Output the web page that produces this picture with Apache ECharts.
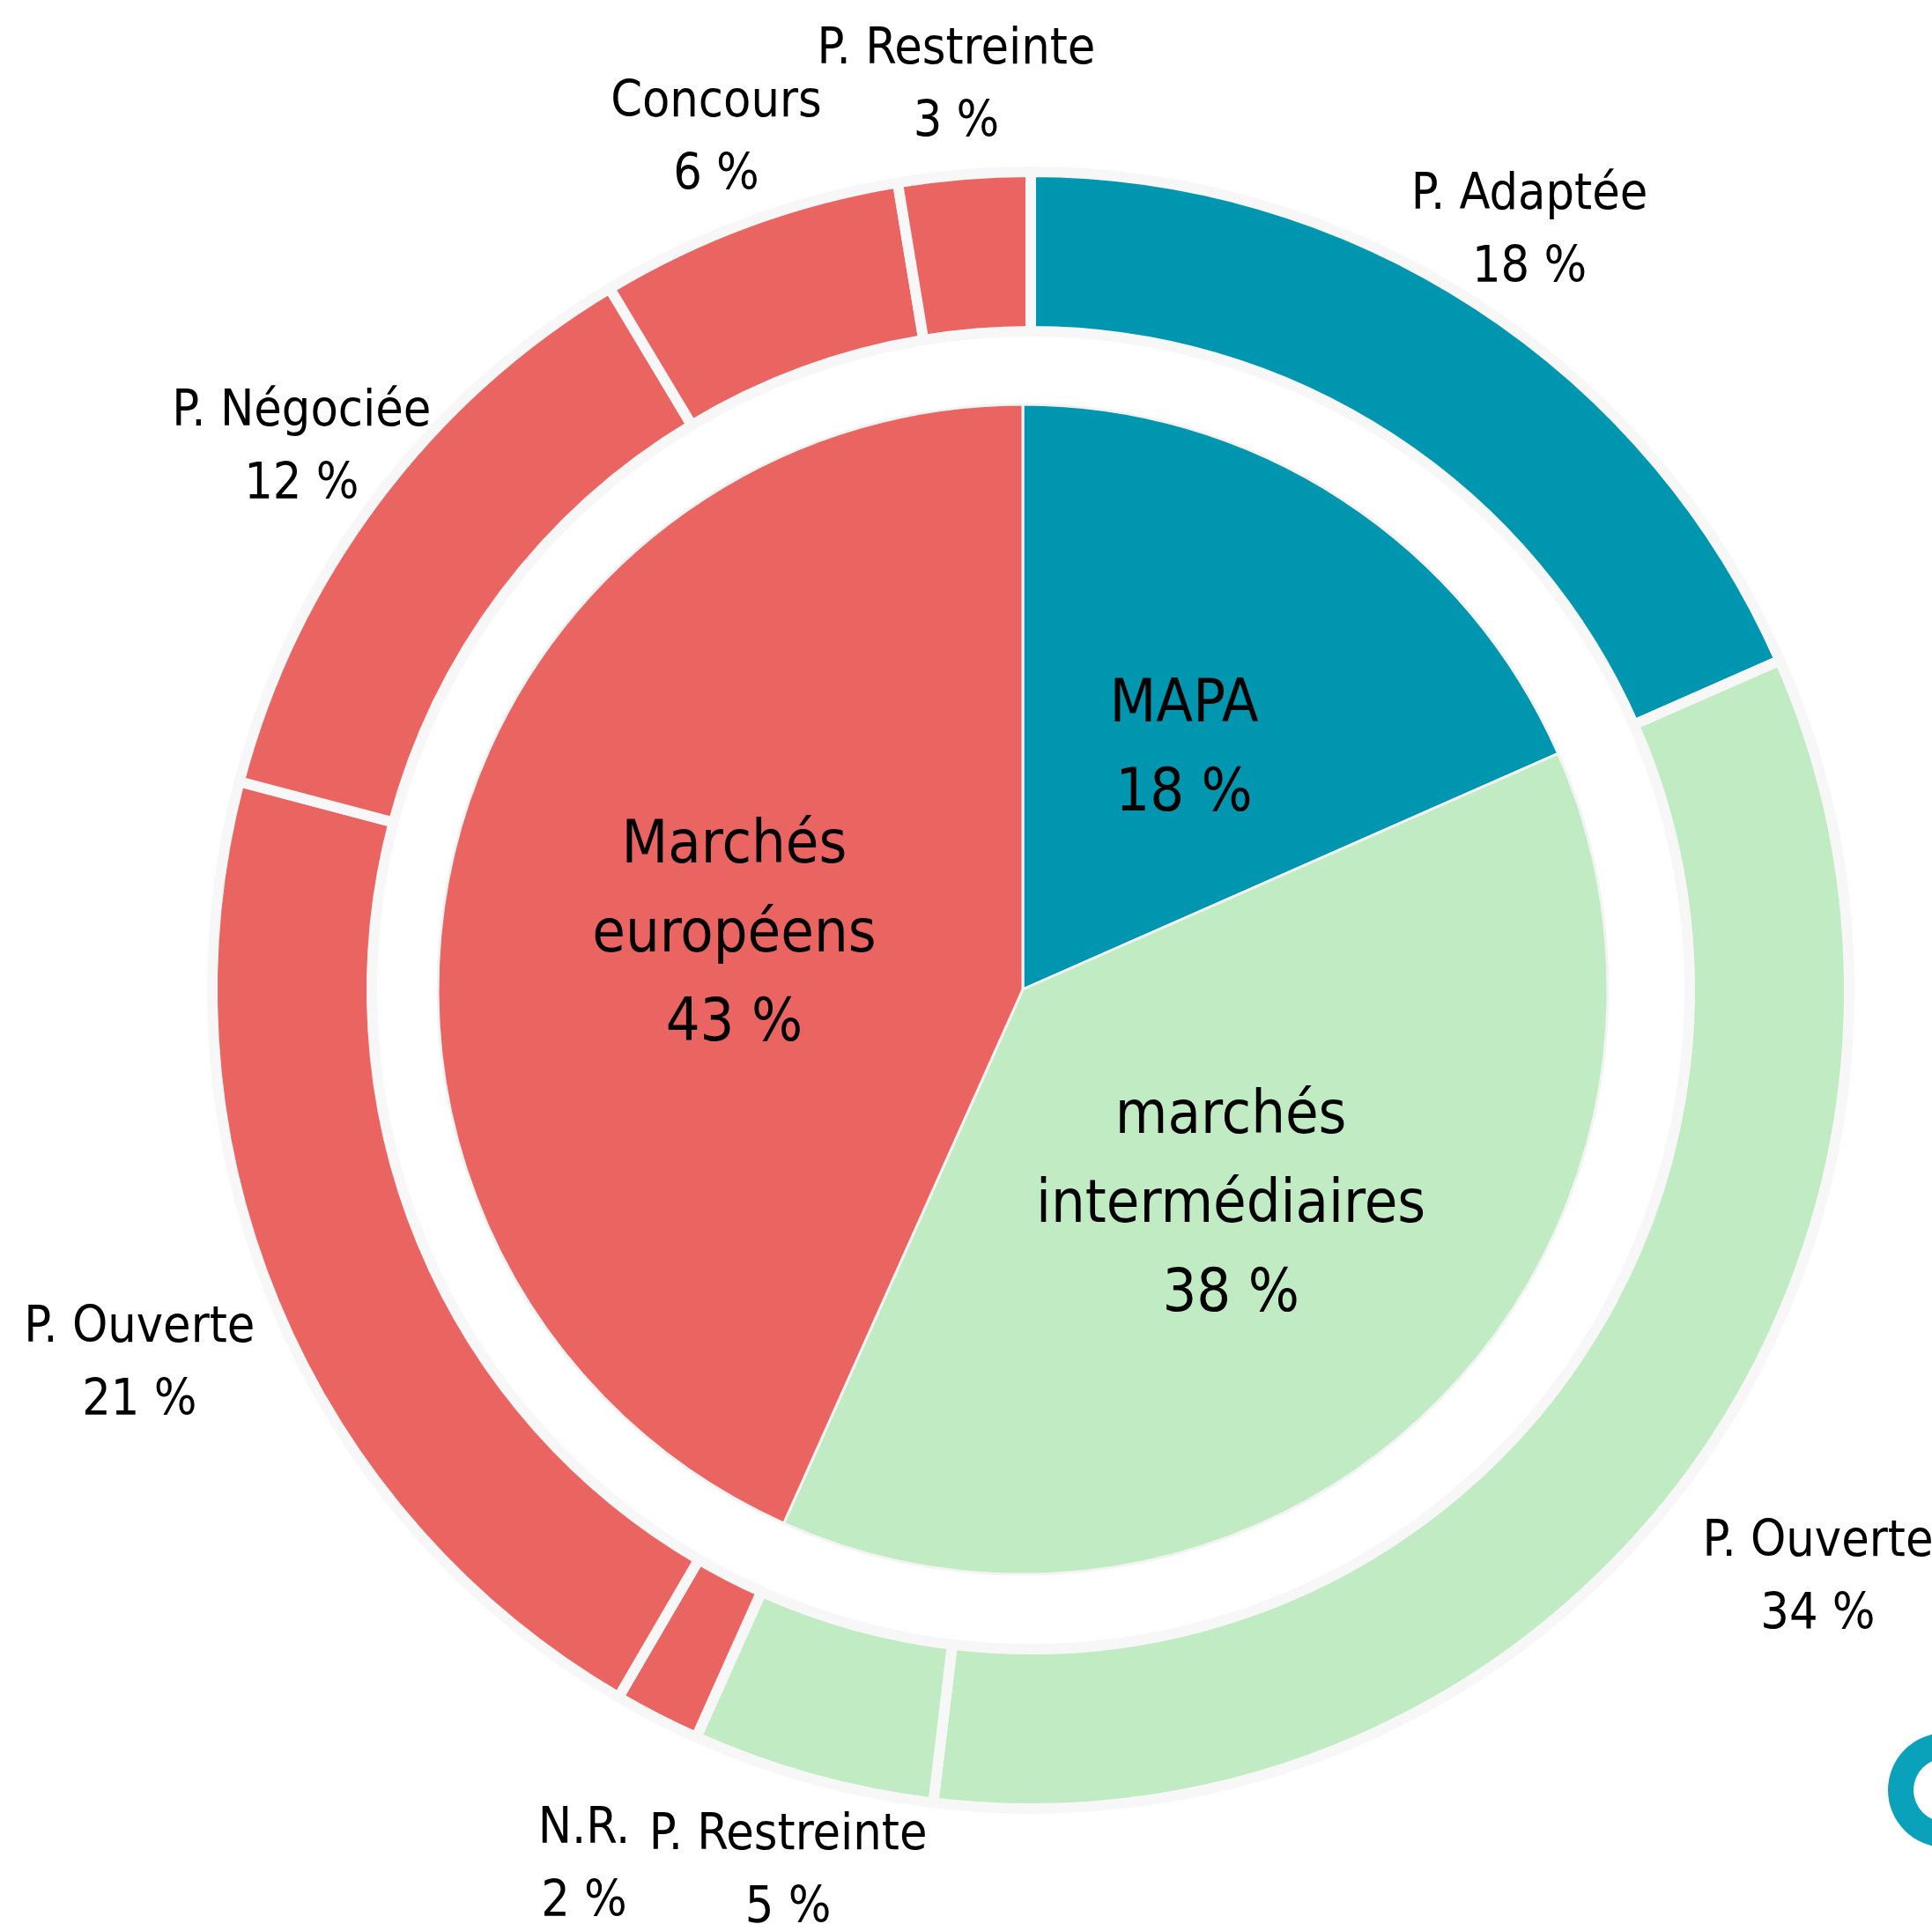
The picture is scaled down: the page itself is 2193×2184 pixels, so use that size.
<!DOCTYPE html>
<html>
<head>
<meta charset="utf-8">
<script src="https://cdn.jsdelivr.net/npm/echarts@6/dist/echarts.min.js"></script>
<style>
  html, body { margin: 0; padding: 0; background: #ffffff; }
  #chart { width: 2193px; height: 2184px; }
</style>
</head>
<body>
<div id="chart"></div>
<script>
// type de marché (anneau intérieur)
var groupNames = ['MAPA', 'marchés\nintermédiaires', 'Marchés\neuropéens'];
var groupValues = [18.4, 38.3, 43.3];
var groupColors = ['#0096B0', '#C1ECC3', '#EA6461'];

// procédure (anneau extérieur), dans l'ordre des aiguilles d'une montre
var procNames = ['P. Adaptée', 'P. Ouverte', 'P. Restreinte', 'N.R.', 'P. Ouverte', 'P. Négociée', 'Concours', 'P. Restreinte'];
var procValues = [18.4, 33.5, 4.8, 1.7, 20.7, 12.3, 6.0, 2.6];
var procGroup = [0, 1, 1, 2, 2, 2, 2, 2];

// mise en page
var cx = 1170, cy = 1124;
var labelDist = [1036, 1112, 1032, 1110, 1095, 1035, 1036, 1036];
var font = "'DejaVu Sans Condensed', 'DejaVu Sans', sans-serif";

var total = procValues.reduce(function (a, b) { return a + b; }, 0);
var cum = 0;
var midAngles = procValues.map(function (v) {
  var a = (cum + v / 2) / total * 2 * Math.PI;
  cum += v;
  return a;
});

var myChart = echarts.init(document.getElementById('chart'));
var option = {
  backgroundColor: '#ffffff',
  animation: false,
  series: [
    {
      name: 'type',
      type: 'pie',
      center: [1161, 1123],
      radius: [0, 664],
      startAngle: 90,
      avoidLabelOverlap: false,
      itemStyle: { borderColor: '#f3f3f3', borderWidth: 3 },
      label: {
        show: true,
        position: 'inside',
        color: '#000',
        fontFamily: font,
        fontSize: 68,
        lineHeight: 101,
        offset: [0, 9],
        formatter: function (p) { return p.name + '\n' + Math.round(p.value) + ' %'; }
      },
      labelLine: { show: false },
      emphasis: { disabled: true },
      data: groupValues.map(function (v, i) {
        return { name: groupNames[i], value: v, itemStyle: { color: groupColors[i] } };
      })
    },
    {
      name: 'procédure',
      type: 'pie',
      center: [cx, cy],
      radius: [748, 929],
      startAngle: 90,
      avoidLabelOverlap: false,
      itemStyle: { borderColor: '#f7f7f7', borderWidth: 12 },
      label: {
        show: true,
        position: 'outside',
        color: '#000',
        fontFamily: font,
        fontSize: 57,
        lineHeight: 83,
        formatter: function (p) { return p.name + '\n' + Math.round(p.value) + ' %'; }
      },
      labelLine: { show: false },
      labelLayout: function (p) {
        var a = midAngles[p.dataIndex], d = labelDist[p.dataIndex];
        return {
          x: cx + d * Math.sin(a),
          y: cy - d * Math.cos(a) + 7,
          align: 'center',
          verticalAlign: 'middle'
        };
      },
      emphasis: { disabled: true },
      data: procValues.map(function (v, i) {
        return { name: procNames[i], value: v, itemStyle: { color: groupColors[procGroup[i]] } };
      })
    }
  ],
  graphic: [
    {
      type: 'ring',
      shape: { cx: 2208, cy: 2032, r: 65, r0: 36 },
      style: { fill: '#0aa2bb' },
      silent: true
    }
  ]
};
myChart.setOption(option);
</script>
</body>
</html>
